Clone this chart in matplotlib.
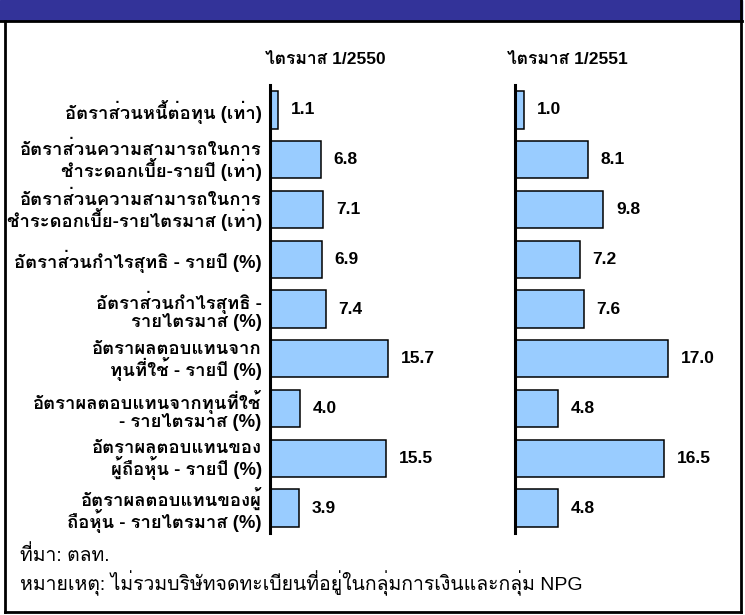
import matplotlib
matplotlib.use("Agg")
import matplotlib.pyplot as plt
import numpy as np
from matplotlib import font_manager
from matplotlib.ft2font import FT2Font
from matplotlib.patches import Rectangle
from matplotlib.lines import Line2D

# data
categories = [
    "อัตราส่วนหนี้ต่อทุน (เท่า)",
    "อัตราส่วนความสามารถในการ\nชำระดอกเบี้ย-รายปี (เท่า)",
    "อัตราส่วนความสามารถในการ\nชำระดอกเบี้ย-รายไตรมาส (เท่า)",
    "อัตราส่วนกำไรสุทธิ - รายปี (%)",
    "อัตราส่วนกำไรสุทธิ -\nรายไตรมาส (%)",
    "อัตราผลตอบแทนจาก\nทุนที่ใช้ - รายปี (%)",
    "อัตราผลตอบแทนจากทุนที่ใช้\n- รายไตรมาส (%)",
    "อัตราผลตอบแทนของ\nผู้ถือหุ้น - รายปี (%)",
    "อัตราผลตอบแทนของผู้\nถือหุ้น - รายไตรมาส (%)",
]
q1_2550 = [1.1, 6.8, 7.1, 6.9, 7.4, 15.7, 4.0, 15.5, 3.9]
q1_2551 = [1.0, 8.1, 9.8, 7.2, 7.6, 17.0, 4.8, 16.5, 4.8]
titles = ["ไตรมาส 1/2550", "ไตรมาส 1/2551"]
source = "ที่มา: ตลท."
note = "หมายเหตุ: ไม่รวมบริษัทจดทะเบียนที่อยู่ในกลุ่มการเงินและกลุ่ม NPG"


# find fonts that have thai glyphs
def thai_families():
    fams = []
    for f in font_manager.fontManager.ttflist:
        try:
            cmap = FT2Font(f.fname).get_charmap()
        except Exception:
            continue
        if 0x0E01 in cmap and f.name not in fams:
            fams.append(f.name)
    return fams


thai = thai_families()
preferred = [f for f in ["Loma", "Tahoma", "Garuda", "Waree", "Noto Sans Thai"] if f in thai]
thai_font = preferred[0] if preferred else (thai[0] if thai else "DejaVu Sans")
label_fonts = ["Liberation Sans", thai_font, "DejaVu Sans"]
num_fonts = ["Liberation Sans", "DejaVu Sans"]

W, H = 745, 615
fig = plt.figure(figsize=(W / 100, H / 100), dpi=100)


def fx(px):
    return px / W


def fy(py):
    return 1 - py / H


# header bar and frame
fig.add_artist(Rectangle((0, fy(20)), fx(742), 20 / H, color="#333399", transform=fig.transFigure))
fig.add_artist(Line2D([0, fx(742)], [fy(21), fy(21)], color="black", lw=2, transform=fig.transFigure))
fig.add_artist(Line2D([fx(5), fx(5)], [fy(21), fy(612)], color="black", lw=2, transform=fig.transFigure))
fig.add_artist(Line2D([fx(741), fx(741)], [fy(0), fy(612)], color="black", lw=2, transform=fig.transFigure))
fig.add_artist(Line2D([fx(5), fx(741)], [fy(612), fy(612)], color="black", lw=2, transform=fig.transFigure))

n = len(categories)
ypos = np.arange(n)
top, bottom = 85, 533
# (axis x, axis width, x max, values, show labels, title centre)
panels = [
    (270, 130, 17.3, q1_2550, True, 325),
    (515, 185, 20.5, q1_2551, False, 567),
]
for (left, width, xmax, vals, show_labels, tx), title in zip(panels, titles):
    ax = fig.add_axes([fx(left), fy(bottom), width / W, (bottom - top) / H])
    ax.barh(ypos, vals, height=0.75, color="#99CCFF", edgecolor="black", linewidth=1.1)
    ax.set_xlim(0, xmax)
    ax.set_ylim(n - 0.5, -0.5)
    for s in ["top", "right", "bottom"]:
        ax.spines[s].set_visible(False)
    ax.spines["left"].set_linewidth(2.2)
    ax.set_xticks([])
    ax.set_yticks(ypos)
    ax.tick_params(axis="y", length=0, pad=6)
    if show_labels:
        ax.set_yticklabels(categories, fontsize=13.3, fontweight="bold",
                           family=label_fonts, ha="right", multialignment="right",
                           linespacing=0.95)
    else:
        ax.set_yticklabels([])
    for y, v in zip(ypos, vals):
        ax.annotate(f"{v:.1f}", (v, y), xytext=(9, 0), textcoords="offset points",
                    va="center", ha="left", fontsize=12.5, fontweight="bold",
                    family=num_fonts)
    fig.text(fx(tx), fy(60), title, fontsize=12.5, fontweight="bold",
             family=label_fonts, ha="center", va="center")

fig.text(fx(20), fy(555), source, fontsize=14, family=label_fonts, va="center")
fig.text(fx(20), fy(583), note, fontsize=14, family=label_fonts, va="center")

fig.savefig("out.png", dpi=100)
